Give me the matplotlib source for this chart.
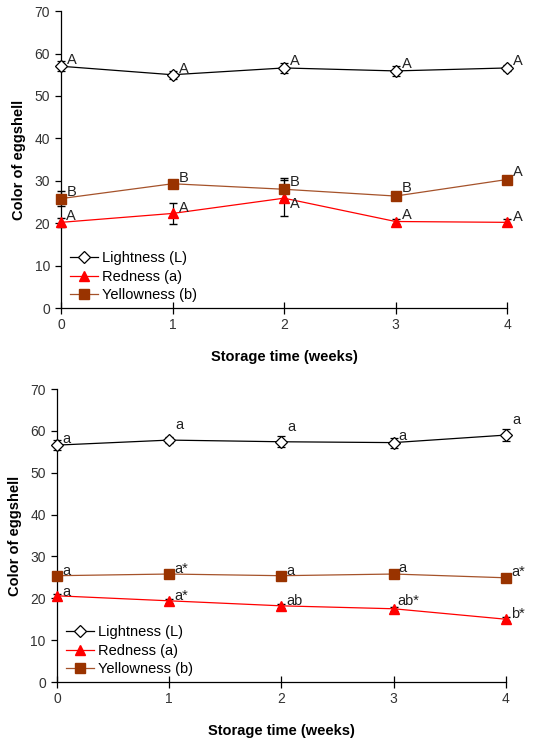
import numpy as np
import matplotlib
matplotlib.use('Agg')
import matplotlib.pyplot as plt
from matplotlib.lines import Line2D

plt.rcParams['font.family'] = ['Liberation Sans', 'DejaVu Sans']

weeks = [0, 1, 2, 3, 4]

# upper panel (uppercase letters)
L_top = [57.0, 55.0, 56.6, 55.9, 56.6]
L_top_err = [1.2, 0.9, 1.2, 1.1, 0.8]
a_top = [20.2, 22.3, 25.9, 20.4, 20.2]
a_top_err = [1.1, 2.4, 4.2, 0.5, 0.7]
b_top = [25.8, 29.3, 28.0, 26.4, 30.3]
b_top_err = [1.8, 0.5, 2.6, 0.5, 0.5]
L_top_lab = ['A', 'A', 'A', 'A', 'A']
a_top_lab = ['A', 'A', 'A', 'A', 'A']
b_top_lab = ['B', 'B', 'B', 'B', 'A']

# lower panel (lowercase letters)
L_bot = [56.6, 57.8, 57.4, 57.2, 59.0]
L_bot_err = [1.2, 0.8, 1.3, 1.2, 1.4]
a_bot = [20.6, 19.4, 18.2, 17.5, 15.0]
a_bot_err = [0.5, 0.5, 0.5, 0.5, 0.5]
b_bot = [25.4, 25.8, 25.4, 25.8, 24.9]
b_bot_err = [0.4, 0.7, 0.4, 0.4, 0.4]
L_bot_lab = ['a', 'a', 'a', 'a', 'a']
a_bot_lab = ['a', 'a*', 'ab', 'ab*', 'b*']
b_bot_lab = ['a', 'a*', 'a', 'a', 'a*']

BROWN = '#993300'
BROWN_LINE = '#a5522a'
RED = '#ff0000'

styles = [
    dict(color='black', marker='D', ms=6, mfc='white', mec='black', mew=0.9),
    dict(color=RED, marker='^', ms=7.5, mfc=RED, mec=RED),
    dict(color=BROWN_LINE, marker='s', ms=6.5, mfc=BROWN, mec=BROWN),
]
names = ['Lightness (L)', 'Redness (a)', 'Yellowness (b)']


def panel(ax, series, errs, labs, offs):
    for ys, es, st in zip(series, errs, styles):
        cont = ax.errorbar(weeks, ys, yerr=es, lw=0.9, ecolor='black',
                           elinewidth=0.9, capsize=3, zorder=3, **st)
        for art in cont.get_children():
            art.set_clip_on(False)
    for ys, lab, off in zip(series, labs, offs):
        for x, y, t, o in zip(weeks, ys, lab, off):
            ax.annotate(t, (x, y), xytext=o, textcoords='offset pixels',
                        ha='left', va='center', fontsize=10.5, color='#222222',
                        annotation_clip=False, zorder=4)
    ax.set_xlim(0, 4)
    ax.set_ylim(0, 70)
    ax.set_xticks(weeks)
    ax.set_yticks(range(0, 71, 10))
    for s in ('top', 'right'):
        ax.spines[s].set_visible(False)
    for s in ('left', 'bottom'):
        ax.spines[s].set_linewidth(0.9)
    ax.tick_params(axis='x', direction='inout', length=8, width=0.9, pad=3,
                   labelsize=10, labelcolor='#333333')
    ax.tick_params(axis='y', direction='out', length=4, width=0.9, pad=4,
                   labelsize=10, labelcolor='#333333')
    ax.set_xlabel('Storage time (weeks)', fontsize=10.5, fontweight='bold',
                  labelpad=13)
    ax.set_ylabel('Color of eggshell', fontsize=10.5, fontweight='bold',
                  labelpad=6)
    handles = [Line2D([], [], lw=0.9, **st) for st in styles]
    ax.legend(handles, names, loc='lower left', bbox_to_anchor=(0.02, 0.02),
              frameon=False, fontsize=10.5, handlelength=1.9,
              handletextpad=0.3, labelspacing=0.3, borderpad=0,
              borderaxespad=0)


fig = plt.figure(figsize=(5.36, 7.41), dpi=100)
ax1 = fig.add_axes([0.1138, 0.5843, 0.8322, 0.4007])
ax2 = fig.add_axes([0.1063, 0.0796, 0.8377, 0.3954])

top_offs = [
    [(6, 6), (6, 6), (6, 7), (6, 7), (6, 7)],
    [(5, 6), (6, 5), (6, -6), (6, 7), (6, 5)],
    [(6, 7), (6, 6), (6, 7), (6, 8), (6, 8)],
]
bot_offs = [
    [(5, 6), (6, 15), (6, 15), (5, 7), (6, 15)],
    [(5, 4), (5, 5), (5, 5), (4, 8), (5, 5)],
    [(5, 5), (5, 5), (5, 5), (5, 6), (5, 6)],
]

panel(ax1, (L_top, a_top, b_top), (L_top_err, a_top_err, b_top_err),
      (L_top_lab, a_top_lab, b_top_lab), top_offs)
panel(ax2, (L_bot, a_bot, b_bot), (L_bot_err, a_bot_err, b_bot_err),
      (L_bot_lab, a_bot_lab, b_bot_lab), bot_offs)

fig.savefig('out.png', dpi=100)
